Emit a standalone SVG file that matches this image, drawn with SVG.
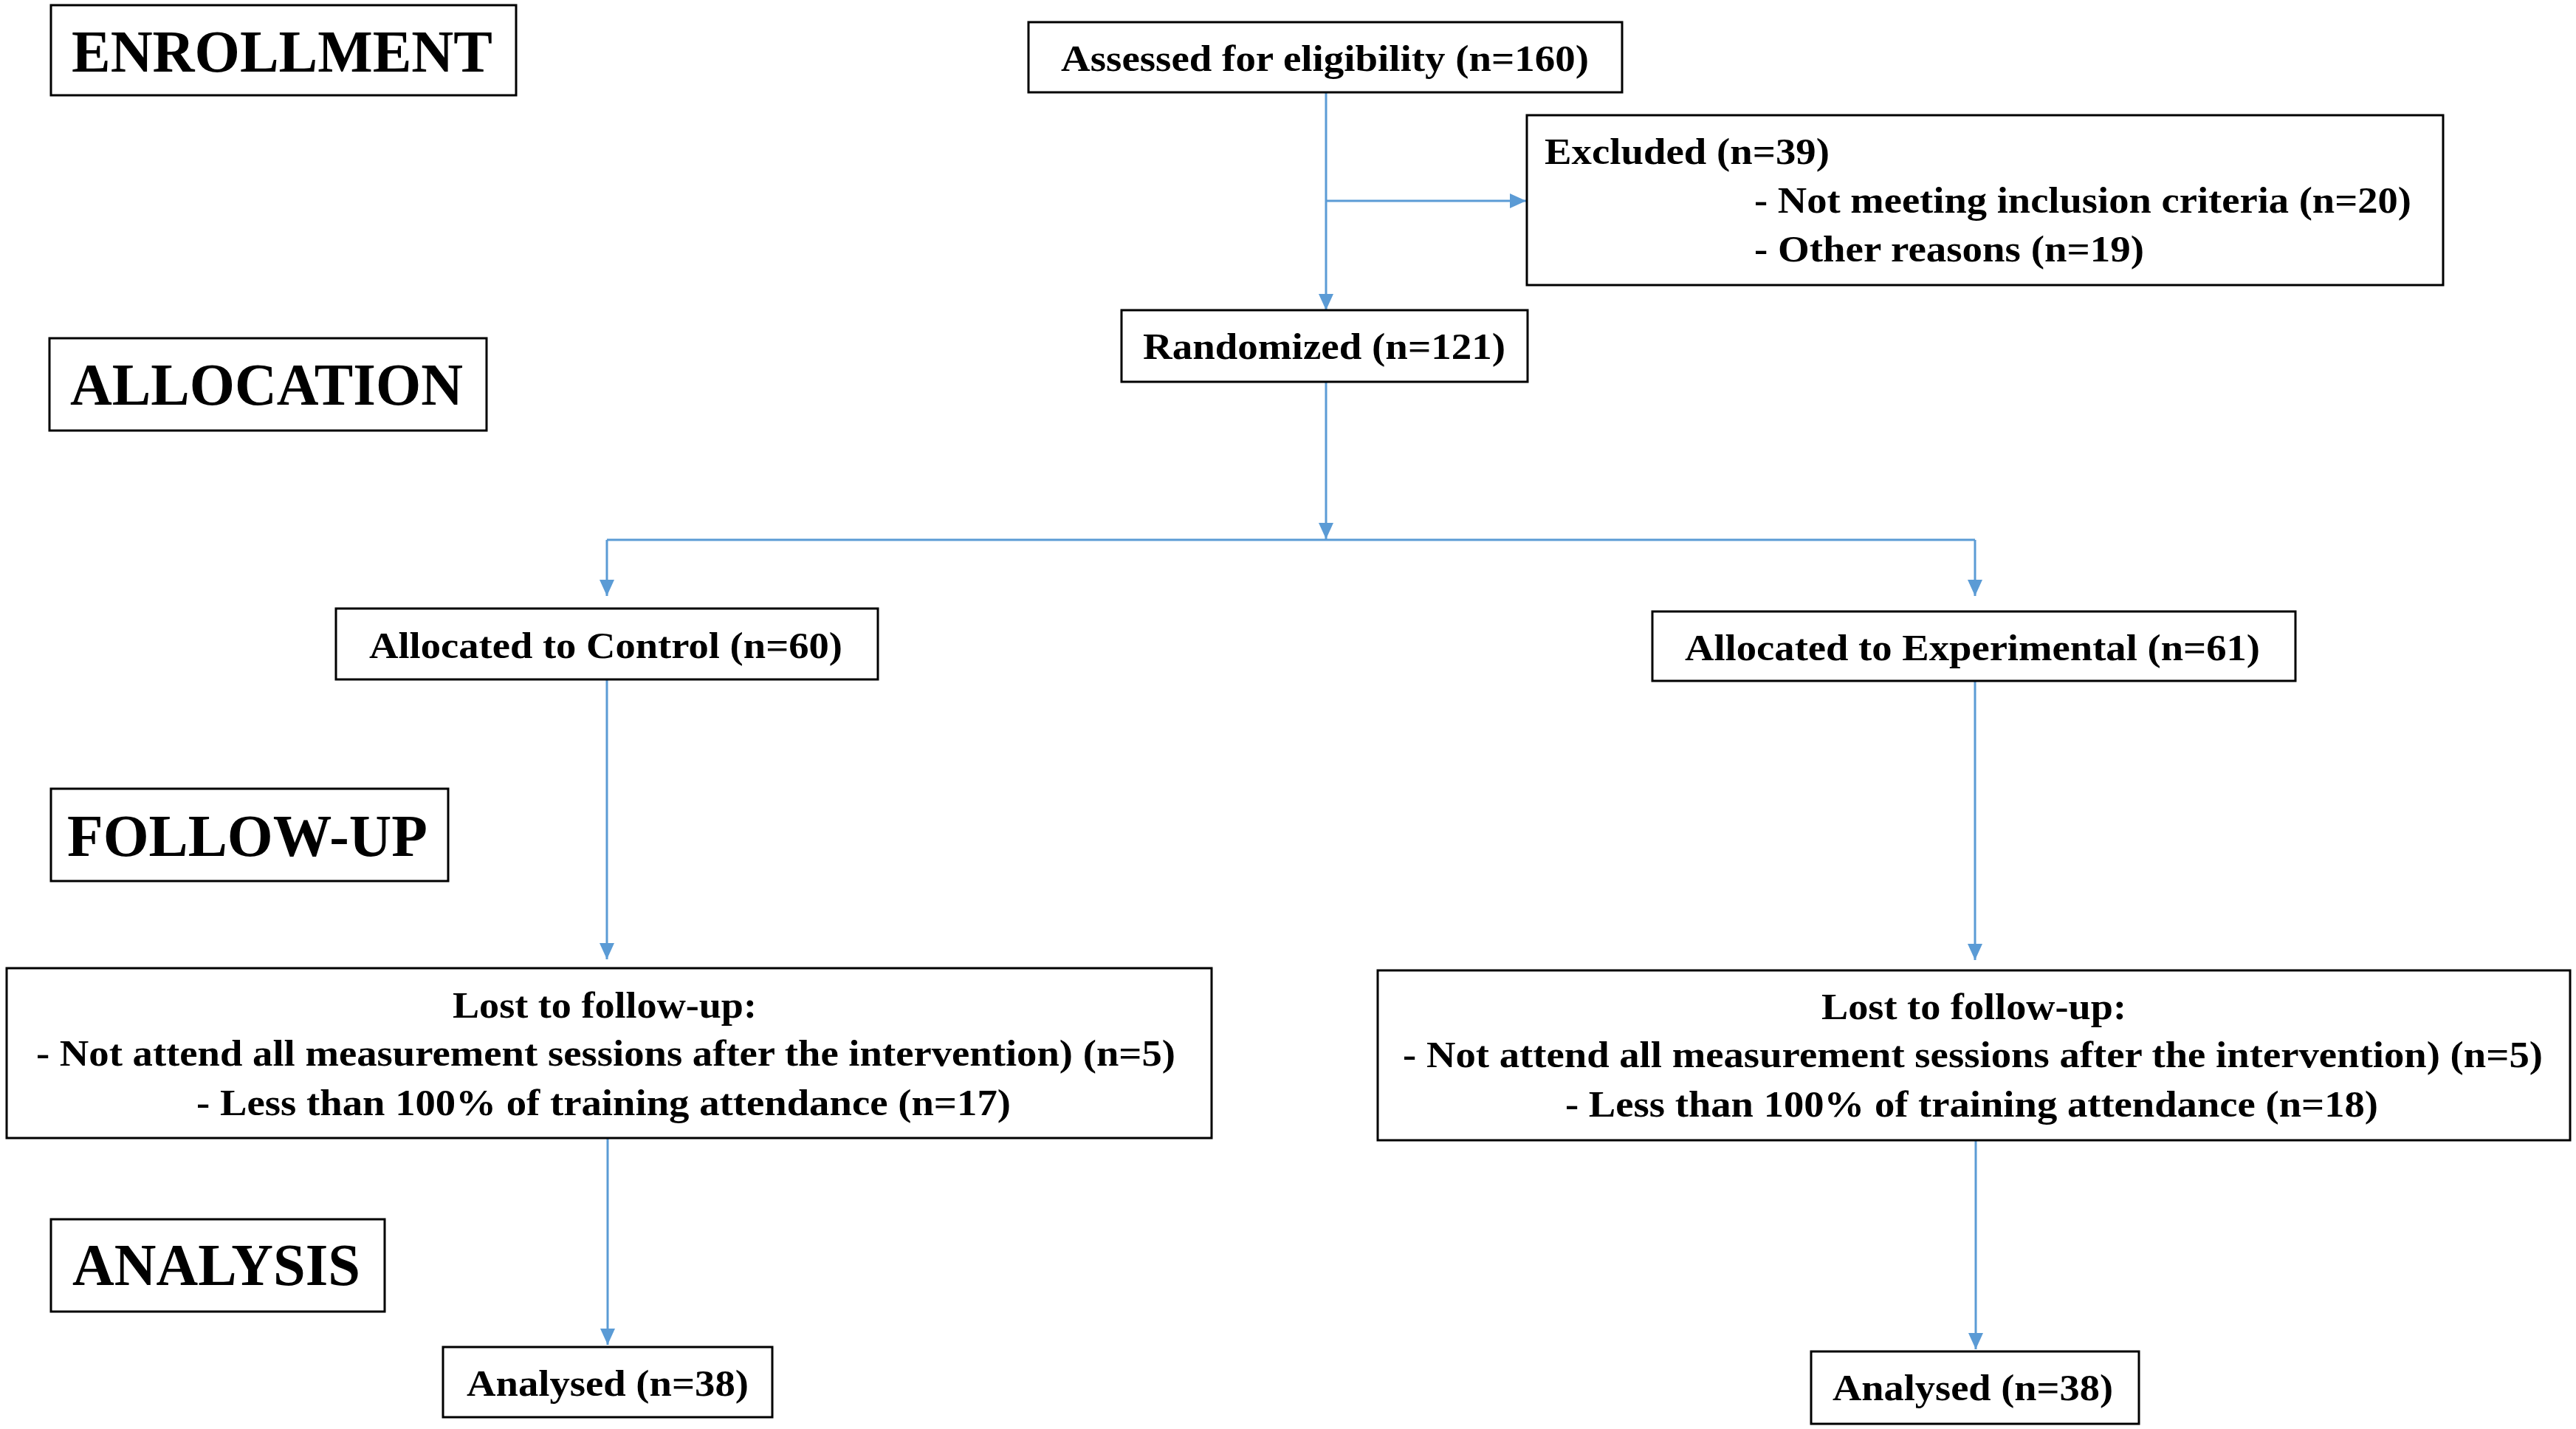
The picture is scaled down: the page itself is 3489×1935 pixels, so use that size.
<svg xmlns="http://www.w3.org/2000/svg" width="3489" height="1935" viewBox="0 0 3489 1935">
<style>
.box{fill:#fff;stroke:#000;stroke-width:3}
.t{font-family:"Liberation Serif","Times New Roman",serif;font-weight:bold;font-size:50px;fill:#000}
.h{font-family:"Liberation Serif","Times New Roman",serif;font-weight:bold;font-size:80px;fill:#000}
.c{fill:none;stroke:#5B9BD5;stroke-width:3}
</style>
<defs>
<marker id="arr" viewBox="0 0 22 20" refX="22" refY="10" markerWidth="22" markerHeight="20" markerUnits="userSpaceOnUse" orient="auto">
<path d="M0,0 L22,10 L0,20 Z" fill="#5B9BD5"/>
</marker>
</defs>
<rect width="3489" height="1935" fill="#fff"/>
<g id="connectors">
<path class="c" d="M1796,125 V420" marker-end="url(#arr)"/>
<path class="c" d="M1796,272 H2067" marker-end="url(#arr)"/>
<path class="c" d="M1796,518 V730" marker-end="url(#arr)"/>
<path class="c" d="M822,731 H2675"/>
<path class="c" d="M822,731 V807" marker-end="url(#arr)"/>
<path class="c" d="M2675,731 V807" marker-end="url(#arr)"/>
<path class="c" d="M822,920 V1299" marker-end="url(#arr)"/>
<path class="c" d="M2675,922 V1300" marker-end="url(#arr)"/>
<path class="c" d="M823,1541 V1821" marker-end="url(#arr)"/>
<path class="c" d="M2676,1544 V1827" marker-end="url(#arr)"/>
</g>
<g id="enrollment"><rect class="box" x="69" y="7" width="630" height="122"/><text class="h" x="97" y="97" textLength="570" lengthAdjust="spacingAndGlyphs">ENROLLMENT</text></g>
<g id="allocation"><rect class="box" x="67" y="458" width="592" height="125"/><text class="h" x="95" y="548" textLength="532" lengthAdjust="spacingAndGlyphs">ALLOCATION</text></g>
<g id="followup"><rect class="box" x="69" y="1068" width="538" height="125"/><text class="h" x="91" y="1159" textLength="488" lengthAdjust="spacingAndGlyphs">FOLLOW-UP</text></g>
<g id="analysis"><rect class="box" x="69" y="1651" width="452" height="125"/><text class="h" x="98" y="1740" textLength="390" lengthAdjust="spacingAndGlyphs">ANALYSIS</text></g>
<g id="assessed"><rect class="box" x="1393" y="30" width="804" height="95"/><text class="t" x="1437" y="96" textLength="715" lengthAdjust="spacingAndGlyphs">Assessed for eligibility (n=160)</text></g>
<g id="excluded"><rect class="box" x="2068" y="156" width="1241" height="230"/>
<text class="t" x="2092" y="222" textLength="386" lengthAdjust="spacingAndGlyphs">Excluded (n=39)</text>
<text class="t" x="2376" y="288" textLength="890" lengthAdjust="spacingAndGlyphs">- Not meeting inclusion criteria (n=20)</text>
<text class="t" x="2376" y="354" textLength="528" lengthAdjust="spacingAndGlyphs">- Other reasons (n=19)</text></g>
<g id="randomized"><rect class="box" x="1519" y="420" width="550" height="97"/><text class="t" x="1548" y="486" textLength="491" lengthAdjust="spacingAndGlyphs">Randomized (n=121)</text></g>
<g id="control"><rect class="box" x="455" y="824" width="734" height="96"/><text class="t" x="500" y="891" textLength="641" lengthAdjust="spacingAndGlyphs">Allocated to Control (n=60)</text></g>
<g id="experimental"><rect class="box" x="2238" y="828" width="871" height="94"/><text class="t" x="2282" y="894" textLength="779" lengthAdjust="spacingAndGlyphs">Allocated to Experimental (n=61)</text></g>
<g id="lost-control"><rect class="box" x="9" y="1311" width="1632" height="230"/>
<text class="t" x="613" y="1378" textLength="412" lengthAdjust="spacingAndGlyphs">Lost to follow-up:</text>
<text class="t" x="49" y="1443" textLength="1543" lengthAdjust="spacingAndGlyphs">- Not attend all measurement sessions after the intervention) (n=5)</text>
<text class="t" x="266" y="1510" textLength="1103" lengthAdjust="spacingAndGlyphs">- Less than 100% of training attendance (n=17)</text></g>
<g id="lost-experimental"><rect class="box" x="1866" y="1314" width="1615" height="230"/>
<text class="t" x="2467" y="1380" textLength="413" lengthAdjust="spacingAndGlyphs">Lost to follow-up:</text>
<text class="t" x="1900" y="1445" textLength="1544" lengthAdjust="spacingAndGlyphs">- Not attend all measurement sessions after the intervention) (n=5)</text>
<text class="t" x="2120" y="1512" textLength="1101" lengthAdjust="spacingAndGlyphs">- Less than 100% of training attendance (n=18)</text></g>
<g id="analysed-control"><rect class="box" x="600" y="1824" width="446" height="95"/><text class="t" x="632" y="1890" textLength="382" lengthAdjust="spacingAndGlyphs">Analysed (n=38)</text></g>
<g id="analysed-experimental"><rect class="box" x="2453" y="1830" width="444" height="98"/><text class="t" x="2482" y="1896" textLength="380" lengthAdjust="spacingAndGlyphs">Analysed (n=38)</text></g>
</svg>
